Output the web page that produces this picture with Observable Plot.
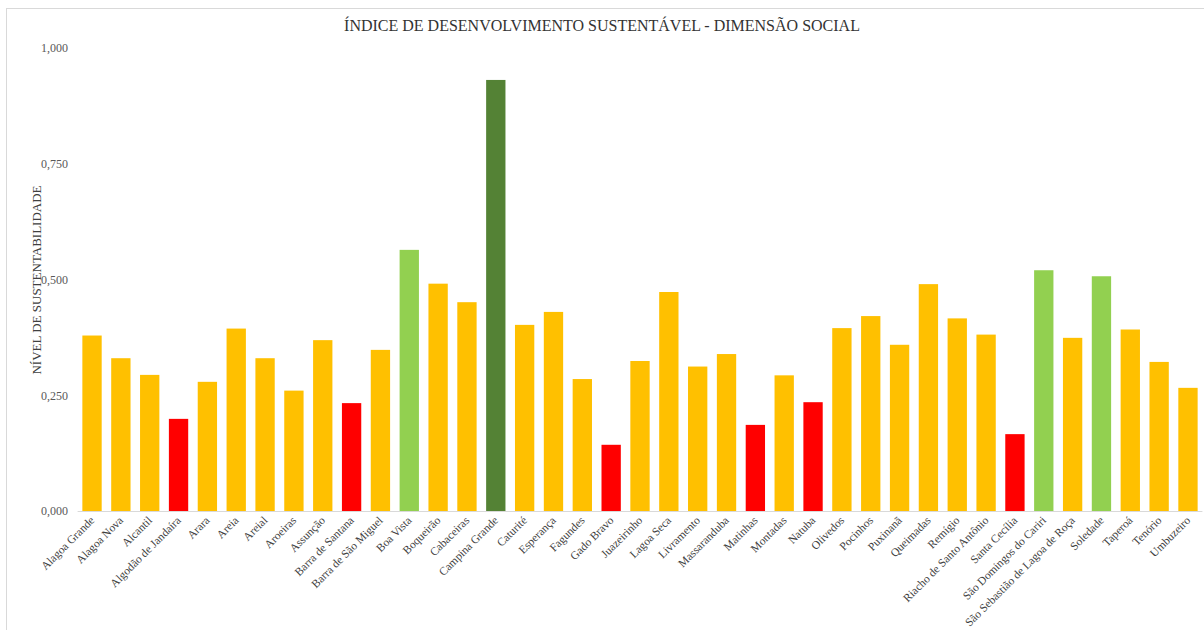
<!DOCTYPE html>
<html>
<head>
<meta charset="utf-8">
<script src="https://cdn.jsdelivr.net/npm/d3@7"></script>
<script src="https://cdn.jsdelivr.net/npm/@observablehq/plot@0.6"></script>
<style>
  html, body { margin: 0; padding: 0; background: #fff; }
  #wrap { position: relative; width: 1204px; height: 630px; overflow: hidden; }
  #frame { position: absolute; left: 6px; top: 8px; width: 1300px; height: 700px; border: 1px solid #d9d9d9; box-sizing: border-box; }
  #title { position: absolute; left: 0; top: 0; width: 1204px; padding-top: 14px; line-height: 24px; text-align: center;
           font-family: "Liberation Serif", "Times New Roman", serif; font-size: 16px; color: #333333; }
  #chart { position: absolute; left: 0; top: 40px; }
</style>
</head>
<body>
<div id="wrap">
  <div id="frame"></div>
  <div id="title">ÍNDICE DE DESENVOLVIMENTO SUSTENTÁVEL - DIMENSÃO SOCIAL</div>
  <div id="chart"></div>
</div>
<script>
const municipios = [
  "Alagoa Grande", "Alagoa Nova", "Alcantil", "Algodão de Jandaíra", "Arara", "Areia", "Areial",
  "Aroeiras", "Assunção", "Barra de Santana", "Barra de São Miguel", "Boa Vista", "Boqueirão",
  "Cabaceiras", "Campina Grande", "Caturité", "Esperança", "Fagundes", "Gado Bravo", "Juazeirinho",
  "Lagoa Seca", "Livramento", "Massaranduba", "Matinhas", "Montadas", "Natuba", "Olivedos",
  "Pocinhos", "Puxinanã", "Queimadas", "Remígio", "Riacho de Santo Antônio", "Santa Cecília",
  "São Domingos do Cariri", "São Sebastião de Lagoa de Roça", "Soledade", "Taperoá", "Tenório", "Umbuzeiro"
];
const indice = [
  0.379, 0.330, 0.294, 0.199, 0.279, 0.394, 0.330,
  0.260, 0.369, 0.233, 0.348, 0.564, 0.491,
  0.451, 0.931, 0.402, 0.430, 0.285, 0.143, 0.324,
  0.473, 0.312, 0.339, 0.186, 0.293, 0.235, 0.395,
  0.421, 0.359, 0.490, 0.416, 0.381, 0.166,
  0.520, 0.374, 0.507, 0.392, 0.322, 0.266
];
const yTicks = [0, 0.25, 0.5, 0.75, 1];
const faixas = [0.25, 0.5, 0.75];
const cores = ["#FF0000", "#FFC000", "#92D050", "#548235"];

const data = municipios.map((m, i) => ({municipio: m, valor: indice[i]}));
const font = '"Liberation Serif", "Times New Roman", serif';

const chart = Plot.plot({
  width: 1204,
  height: 590,
  marginTop: 8,
  marginBottom: 119,
  marginLeft: 77.6,
  marginRight: 1.6,
  style: {fontFamily: font, color: "#404040", background: "transparent"},
  x: {domain: municipios, paddingInner: 0.33, paddingOuter: 0.165, label: null},
  y: {domain: [0, 1], label: null},
  color: {type: "threshold", domain: faixas, range: cores},
  marks: [
    Plot.barY(data, {x: "municipio", y: "valor", fill: d => d.valor}),
    Plot.ruleY([0], {stroke: "#d9d9d9", strokeWidth: 1}),
    Plot.axisY(yTicks, {
      tickSize: 0, tickPadding: 10, fontSize: 12, fill: "#595959",
      tickFormat: d => d.toFixed(3).replace(".", ","),
      label: "NÍVEL DE SUSTENTABILIDADE", labelAnchor: "center", labelOffset: 46, labelArrow: "none"
    }),
    Plot.axisX({
      tickSize: 0, tickPadding: 7, tickRotate: -45, fontSize: 11.5, fill: "#404040", label: null
    })
  ]
});
chart.querySelectorAll("g[aria-label='y-axis label']").forEach(el => {
  el.setAttribute("font-size", "13");
  el.setAttribute("fill", "#404040");
});
document.getElementById("chart").appendChild(chart);
</script>
</body>
</html>
